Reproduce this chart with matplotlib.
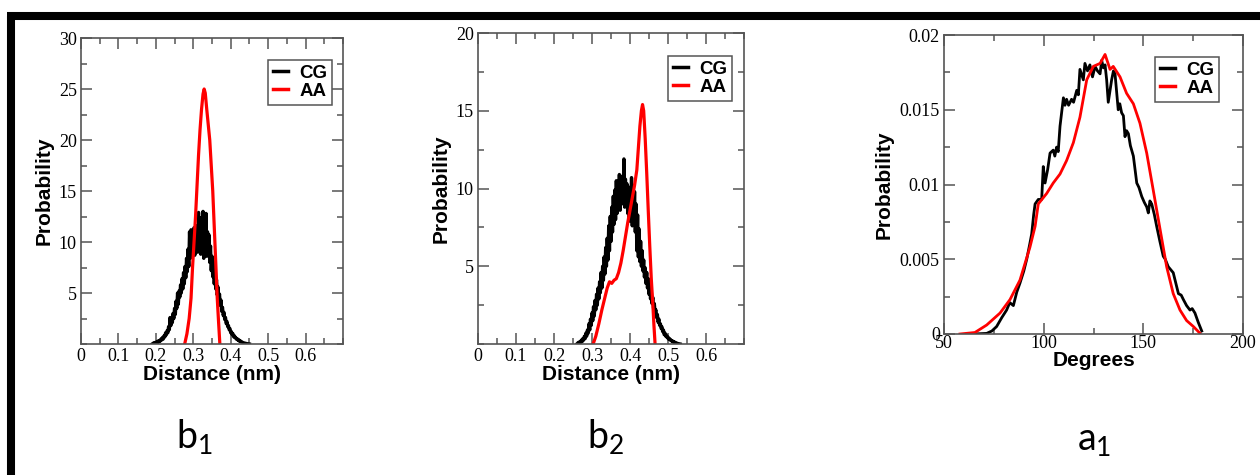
import numpy as np
import matplotlib
matplotlib.use("Agg")
import matplotlib.pyplot as plt
from matplotlib.lines import Line2D
from matplotlib.ticker import MultipleLocator

plt.rcParams["font.family"] = ["Liberation Serif", "DejaVu Serif"]
plt.rcParams["xtick.labelsize"] = 13
plt.rcParams["ytick.labelsize"] = 13

# ---------------- data ----------------
# Panel b1 : bond distance distribution (CG binned every 0.002 nm)
b1_cg_x = np.round(np.arange(0.190, 0.4501, 0.002), 3)
b1_cg_y = [0.0, 0.05, 0.1, 0.05, 0.15, 0.1, 0.2, 0.15, 0.3, 0.2,
           0.35, 0.3, 0.5, 0.4, 0.65, 0.5, 0.8, 0.7, 1.1, 0.9,
           1.3, 1.1, 1.7, 1.4, 2.6, 1.8, 2.4, 2.1, 3.0, 2.5,
           3.5, 2.9, 4.2, 3.5, 5.0, 3.9, 5.2, 4.6, 5.8, 5.0,
           6.4, 5.4, 7.0, 5.9, 7.6, 6.5, 8.4, 7.1, 9.3, 7.6,
           11.0, 8.4, 11.2, 8.9, 10.3, 9.2, 11.4, 8.7, 10.6, 9.5,
           11.6, 9.0, 12.9, 9.6, 11.3, 8.8, 12.4, 9.2, 13.0, 8.4,
           11.5, 9.3, 12.8, 8.6, 11.0, 9.4, 10.7, 8.0, 9.6, 7.2,
           8.6, 6.6, 8.1, 5.9, 7.3, 5.4, 6.3, 4.8, 5.6, 4.3,
           4.9, 3.8, 4.3, 3.2, 3.6, 2.8, 3.1, 2.4, 2.6, 2.0,
           2.2, 1.7, 1.8, 1.4, 1.5, 1.1, 1.2, 0.9, 1.0, 0.7,
           0.8, 0.6, 0.6, 0.45, 0.5, 0.35, 0.4, 0.25, 0.3, 0.2,
           0.2, 0.15, 0.12, 0.1, 0.08, 0.06, 0.05, 0.03, 0.02, 0.01, 0.0]
b1_aa_x = [0.277, 0.283, 0.289, 0.294, 0.298, 0.302, 0.306, 0.310, 0.314, 0.318, 0.322,
           0.326, 0.329, 0.332, 0.336, 0.340, 0.344, 0.348, 0.352, 0.356, 0.360, 0.364,
           0.367, 0.371]
b1_aa_y = [0.0, 1.0, 2.5, 4.5, 7.5, 10.0, 12.5, 15.5, 18.5, 21.0, 23.0, 24.5, 25.0, 24.6,
           23.0, 21.5, 20.0, 17.5, 15.0, 11.5, 8.0, 4.5, 2.5, 0.0]

# Panel b2 : bond distance distribution (CG binned every 0.002 nm)
b2_cg_x = np.round(np.arange(0.260, 0.5321, 0.002), 3)
b2_cg_y = [0.0, 0.05, 0.1, 0.08, 0.15, 0.1, 0.25, 0.15, 0.35, 0.25,
           0.5, 0.35, 0.7, 0.5, 0.9, 0.7, 1.3, 0.9, 1.6, 1.2,
           2.0, 1.5, 2.4, 1.8, 2.8, 2.2, 3.2, 2.5, 3.6, 2.9,
           4.0, 3.3, 4.6, 3.6, 5.0, 4.1, 5.6, 4.5, 6.2, 5.0,
           6.8, 5.4, 7.6, 6.0, 8.2, 6.6, 8.8, 7.2, 9.5, 7.7,
           9.9, 8.0, 10.5, 8.4, 10.2, 8.8, 10.9, 8.6, 10.4, 9.0,
           10.8, 9.2, 11.9, 8.8, 10.6, 9.0, 10.3, 8.4, 10.1, 7.9,
           9.6, 8.0, 10.7, 7.6, 10.2, 8.1, 9.8, 7.2, 9.0, 6.0,
           8.3, 5.6, 7.4, 5.3, 6.6, 5.0, 6.0, 4.7, 5.4, 4.3,
           4.9, 3.9, 4.6, 3.6, 4.2, 3.2, 3.8, 2.9, 3.4, 2.6,
           3.0, 2.3, 2.6, 2.0, 2.2, 1.7, 1.9, 1.4, 1.6, 1.2,
           1.3, 1.0, 1.1, 0.8, 0.9, 0.6, 0.7, 0.5, 0.55, 0.4,
           0.45, 0.3, 0.35, 0.25, 0.25, 0.18, 0.2, 0.12, 0.14, 0.08,
           0.1, 0.06, 0.05, 0.03, 0.02, 0.01, 0.0]
b2_aa_x = [0.303, 0.310, 0.318, 0.326, 0.334, 0.340, 0.346, 0.352, 0.358, 0.364, 0.370,
           0.376, 0.382, 0.388, 0.394, 0.400, 0.406, 0.412, 0.418, 0.422, 0.426, 0.430,
           0.433, 0.436, 0.440, 0.444, 0.448, 0.452, 0.456, 0.460, 0.463, 0.466]
b2_aa_y = [0.0, 0.5, 1.3, 2.2, 3.0, 3.6, 4.0, 3.9, 4.1, 4.2, 4.6, 5.2, 6.0, 6.9, 7.8, 8.6,
           9.4, 10.2, 11.2, 12.6, 14.0, 15.0, 15.4, 15.0, 13.2, 11.0, 8.6, 6.3, 4.2, 2.6,
           1.2, 0.0]

# Panel a1 : angle distribution
a1_cg_x = [64.7, 68.0, 71.4, 74.0, 76.4, 79.0, 81.4, 83.0, 84.8, 86.5, 88.1, 90.0, 91.5,
           93.0, 94.0, 95.0, 95.7, 97.3, 99.0, 99.8, 100.7, 102.0, 103.2, 104.8, 105.6,
           106.5, 107.3, 108.2, 109.9, 110.7, 111.5, 112.5, 114.0, 115.0, 116.6, 117.4,
           118.2, 119.9, 120.7, 122.0, 123.2, 124.5, 125.8, 127.0, 128.3, 129.1, 130.0,
           130.8, 131.6, 132.4, 134.1, 135.0, 135.8, 137.4, 138.2, 139.1, 140.0, 140.8,
           141.6, 142.5, 143.5, 145.0, 146.7, 147.8, 149.2, 150.5, 151.7, 152.5, 153.3,
           154.2, 155.5, 156.7, 158.3, 160.0, 161.0, 162.5, 165.0, 166.3, 167.6, 169.0,
           170.1, 171.7, 173.4, 174.5, 175.9, 177.5, 179.3]
a1_cg_y = [0.0, 0.00002, 0.00004, 0.0002, 0.0005, 0.0011, 0.0016, 0.0021, 0.0019, 0.0028,
           0.0034, 0.0042, 0.0050, 0.0060, 0.0067, 0.0080, 0.0087, 0.0090, 0.0090, 0.0112,
           0.0101, 0.0110, 0.0121, 0.0123, 0.0119, 0.0125, 0.0122, 0.0139, 0.0158, 0.0153,
           0.0157, 0.0153, 0.0157, 0.0155, 0.0163, 0.0160, 0.0177, 0.0170, 0.0181, 0.0176,
           0.0180, 0.0172, 0.0179, 0.0176, 0.0174, 0.0183, 0.0178, 0.0180, 0.0170, 0.0155,
           0.0170, 0.0176, 0.0174, 0.0150, 0.0154, 0.0148, 0.0146, 0.0132, 0.0136, 0.0134,
           0.0126, 0.0119, 0.0101, 0.0098, 0.0092, 0.0088, 0.0085, 0.0081, 0.0089, 0.0087,
           0.0080, 0.0072, 0.0062, 0.0052, 0.0050, 0.0045, 0.0041, 0.0034, 0.0027, 0.0026,
           0.0023, 0.0019, 0.0016, 0.0017, 0.0014, 0.0008, 0.0002]
a1_aa_x = [58.0, 65.5, 71.4, 78.1, 83.1, 88.1, 93.1, 95.7, 97.3, 101.5, 104.8, 108.2, 111.5,
           114.9, 118.2, 121.6, 124.9, 128.3, 130.8, 133.3, 134.9, 138.3, 141.6, 145.0,
           148.3, 151.7, 155.0, 158.4, 161.7, 165.0, 168.4, 171.7, 175.1, 178.4]
a1_aa_y = [0.0, 0.0001, 0.0006, 0.0014, 0.0023, 0.0036, 0.0058, 0.0072, 0.0087, 0.0094,
           0.0101, 0.0107, 0.0116, 0.0128, 0.0145, 0.0170, 0.0179, 0.0181, 0.0187, 0.0177,
           0.0179, 0.0172, 0.0161, 0.0154, 0.0141, 0.0121, 0.0096, 0.0070, 0.0045, 0.0027,
           0.0016, 0.0009, 0.0005, 0.00005]

b_xticks = [0, 0.1, 0.2, 0.3, 0.4, 0.5, 0.6]
b_xticklabels = ["0", "0.1", "0.2", "0.3", "0.4", "0.5", "0.6"]
b1_yticks = [5, 10, 15, 20, 25, 30]
b2_yticks = [5, 10, 15, 20]
a1_xticks = [50, 100, 150, 200]
a1_yticks = [0, 0.005, 0.01, 0.015, 0.02]
a1_yticklabels = ["0", "0.005", "0.01", "0.015", "0.02"]
series_labels = ["CG", "AA"]
panel_labels = ["b", "b", "a"]
panel_subs = ["1", "2", "1"]

# ---------------- figure ----------------
W, H = 1260, 475
fig = plt.figure(figsize=(W / 100, H / 100), dpi=100)
fig.patch.set_facecolor("white")

SPINE = "#555555"
LABELFONT = dict(family="Liberation Sans", size=15, weight="bold")


def add_ax(left, right, top, bottom):
    return fig.add_axes([left / W, (H - bottom) / H, (right - left) / W, (bottom - top) / H])


def style(ax):
    for s in ax.spines.values():
        s.set_color(SPINE)
        s.set_linewidth(1.2)
    ax.tick_params(which="both", direction="in", top=True, right=True, color=SPINE, width=1.1)
    ax.tick_params(which="major", length=8, pad=3)
    ax.tick_params(which="minor", length=4)


def legend(ax, anchor):
    leg = ax.legend(series_labels, loc="upper right", bbox_to_anchor=anchor, borderaxespad=0,
                    fancybox=False, edgecolor=SPINE, framealpha=1, handlelength=0.8,
                    handletextpad=0.6, borderpad=0.25, labelspacing=0.05,
                    prop=dict(family="Liberation Sans", weight="bold", size=13.5))
    leg.get_frame().set_linewidth(1.1)
    for h in leg.get_lines():
        h.set_linewidth(2.5)


# Panel b1
ax1 = add_ax(81, 343, 38, 344)
ax1.plot(b1_cg_x, b1_cg_y, color="black", lw=2.4)
ax1.plot(b1_aa_x, b1_aa_y, color="red", lw=2.3)
ax1.set_xlim(0, 0.7)
ax1.set_ylim(0, 30)
ax1.set_xticks(b_xticks)
ax1.set_xticklabels(b_xticklabels)
ax1.set_yticks(b1_yticks)
ax1.xaxis.set_minor_locator(MultipleLocator(0.05))
ax1.yaxis.set_minor_locator(MultipleLocator(2.5))
ax1.set_xlabel("Distance (nm)", labelpad=0, **LABELFONT)
ax1.set_ylabel("Probability", labelpad=4, **LABELFONT)
style(ax1)
legend(ax1, (0.958, 0.928))

# Panel b2
ax2 = add_ax(478, 744, 33, 344)
ax2.plot(b2_cg_x, b2_cg_y, color="black", lw=2.4)
ax2.plot(b2_aa_x, b2_aa_y, color="red", lw=2.3)
ax2.set_xlim(0, 0.7)
ax2.set_ylim(0, 20)
ax2.set_xticks(b_xticks)
ax2.set_xticklabels(b_xticklabels)
ax2.set_yticks(b2_yticks)
ax2.xaxis.set_minor_locator(MultipleLocator(0.05))
ax2.yaxis.set_minor_locator(MultipleLocator(2.5))
ax2.set_xlabel("Distance (nm)", labelpad=0, **LABELFONT)
ax2.set_ylabel("Probability", labelpad=4, **LABELFONT)
style(ax2)
legend(ax2, (0.955, 0.926))

# Panel a1
ax3 = add_ax(944, 1243, 35, 334)
ax3.plot(a1_cg_x, a1_cg_y, color="black", lw=2.0)
ax3.plot(a1_aa_x, a1_aa_y, color="red", lw=2.0)
ax3.set_xlim(50, 200)
ax3.set_ylim(0, 0.02)
ax3.set_xticks(a1_xticks)
ax3.set_yticks(a1_yticks)
ax3.set_yticklabels(a1_yticklabels)
ax3.xaxis.set_minor_locator(MultipleLocator(25))
ax3.yaxis.set_minor_locator(MultipleLocator(0.0025))
ax3.set_xlabel("Degrees", labelpad=-1, **LABELFONT)
ax3.set_ylabel("Probability", labelpad=4, **LABELFONT)
style(ax3)
ax3.tick_params(axis="x", which="major", pad=1)
legend(ax3, (0.92, 0.926))

# Panel captions
for (cx, cy), lab, sub in zip([(194, 437), (606, 437), (1094, 440)], panel_labels, panel_subs):
    fig.text(cx / W, 1 - cy / H, r"$\mathregular{%s_{%s}}$" % (lab, sub), ha="center",
             va="center", family="Lato", fontsize=27)

# Outer frame (left and top borders only)
fig.add_artist(Line2D([11 / W, 11 / W], [0, 1 - 16 / H], transform=fig.transFigure,
                      color="black", lw=5.8, solid_capstyle="butt"))
fig.add_artist(Line2D([7 / W, 1], [1 - 16 / H, 1 - 16 / H], transform=fig.transFigure,
                      color="black", lw=5.8, solid_capstyle="butt"))

fig.savefig("out.png", dpi=100, facecolor="white")
